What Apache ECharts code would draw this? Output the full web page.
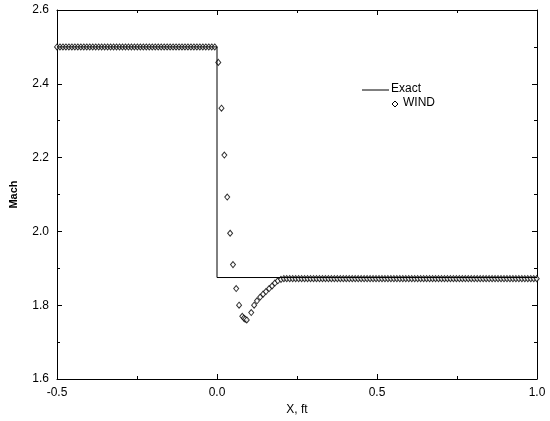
<!DOCTYPE html>
<html>
<head>
<meta charset="utf-8">
<script src="https://cdn.jsdelivr.net/npm/echarts@6/dist/echarts.min.js"></script>
<style>html,body{margin:0;padding:0;background:#fff}#main{width:550px;height:421px}</style>
</head>
<body>
<div id="main"></div>
<script>
// exact solution
var exactX = [-0.5, 0.0, 0.0, 1.0];
var exactY = [2.5, 2.5, 1.875, 1.875];

// WIND points: upstream plateau, shock region, downstream plateau
var gridStep = 0.0093;
var upstreamMach = 2.5;
var downstreamMach = 1.872;
var shockX = [0.004, 0.014, 0.023, 0.032, 0.041, 0.050, 0.060, 0.069, 0.079, 0.084, 0.088, 0.093, 0.107, 0.116,
              0.125, 0.135, 0.144, 0.153, 0.163, 0.172, 0.181, 0.190, 0.200, 0.209];
var shockY = [2.458, 2.334, 2.207, 2.093, 1.995, 1.910, 1.845, 1.800, 1.770, 1.765, 1.762, 1.760, 1.780, 1.800,
              1.812, 1.822, 1.830, 1.837, 1.845, 1.852, 1.860, 1.866, 1.870, 1.872];

var windData = [];
for (var x = -0.5; x < 0; x += gridStep) windData.push([x, upstreamMach]);
shockX.forEach(function(v, i) { windData.push([v, shockY[i]]); });
for (var x2 = 0.218; x2 <= 1.0; x2 += gridStep) windData.push([x2, downstreamMach]);

var font = 'Liberation Sans, Arial, sans-serif';
function axisStyle(extra) {
    return Object.assign({
        axisLine: { onZero: false, lineStyle: { color: '#000', width: 1 } },
        axisTick: { inside: true, length: 5, lineStyle: { color: '#000' } },
        minorTick: { show: true, splitNumber: 2, length: 3, lineStyle: { color: '#000' } },
        splitLine: { show: false },
        axisLabel: { color: '#000', fontSize: 12, fontFamily: font, formatter: function(v) { return v.toFixed(1); } }
    }, extra);
}

var option = {
    animation: false,
    grid: { left: 53, right: 13, top: 10, bottom: 42 },
    graphic: [
        { type: 'line', shape: { x1: 362, y1: 90, x2: 389, y2: 90 }, style: { stroke: '#000', lineWidth: 1 } },
        { type: 'polygon', shape: { points: [[395, 101], [398, 104], [395, 107], [392, 104]] }, style: { fill: '#fff', stroke: '#000', lineWidth: 1 } },
        { type: 'text', left: 391, top: 83, style: { text: 'Exact', fill: '#000', font: '12px ' + font } },
        { type: 'text', left: 403, top: 97, style: { text: 'WIND', fill: '#000', font: '12px ' + font } }
    ],
    xAxis: [
        axisStyle({
            type: 'value', min: -0.5, max: 1.0, interval: 0.5,
            name: 'X, ft', nameLocation: 'middle', nameGap: 20,
            nameTextStyle: { color: '#000', fontSize: 12, fontFamily: font }
        }),
        axisStyle({ type: 'value', min: -0.5, max: 1.0, interval: 0.5, position: 'top', axisLabel: { show: false } })
    ],
    yAxis: [
        axisStyle({
            type: 'value', min: 1.6, max: 2.6, interval: 0.2,
            name: 'Mach', nameLocation: 'middle', nameGap: 38,
            nameTextStyle: { color: '#000', fontSize: 11, fontWeight: 'bold', fontFamily: font }
        }),
        axisStyle({ type: 'value', min: 1.6, max: 2.6, interval: 0.2, position: 'right', axisLabel: { show: false } })
    ],
    series: [
        {
            name: 'Exact', type: 'line', symbol: 'none',
            lineStyle: { color: '#000', width: 1 },
            data: exactX.map(function(v, i) { return [v, exactY[i]]; })
        },
        {
            name: 'WIND', type: 'scatter', symbol: 'diamond', symbolSize: [5, 6],
            itemStyle: { color: '#fff', borderColor: '#000', borderWidth: 1 },
            data: windData
        }
    ]
};
var myChart = echarts.init(document.getElementById('main'));
myChart.setOption(option);
</script>
</body>
</html>
